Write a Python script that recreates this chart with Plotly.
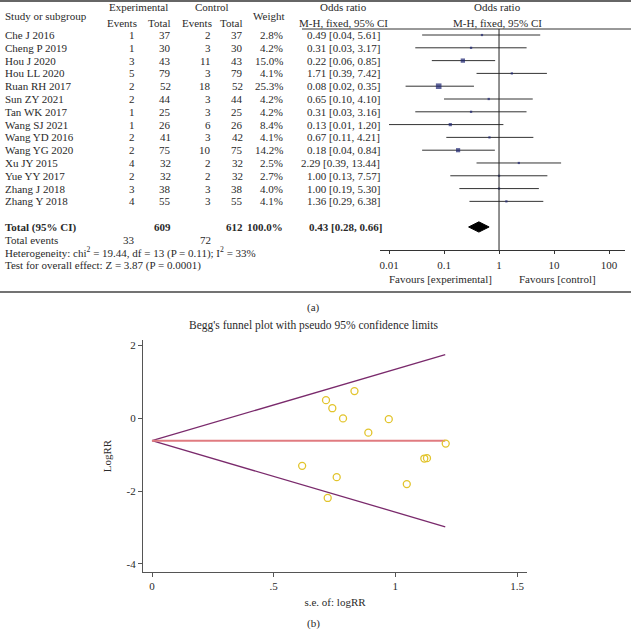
import plotly.graph_objects as go

W, H = 631, 629

# ---------------- data: forest plot ----------------
studies = ["Che J 2016", "Cheng P 2019", "Hou J 2020", "Hou LL 2020", "Ruan RH 2017",
           "Sun ZY 2021", "Tan WK 2017", "Wang SJ 2021", "Wang YD 2016", "Wang YG 2020",
           "Xu JY 2015", "Yue YY 2017", "Zhang J 2018", "Zhang Y 2018"]
exp_events = [1, 1, 3, 5, 2, 2, 1, 1, 2, 2, 4, 2, 3, 4]
exp_total = [37, 30, 43, 79, 52, 44, 25, 26, 41, 75, 32, 32, 38, 55]
ctrl_events = [2, 3, 11, 3, 18, 3, 3, 6, 3, 10, 2, 2, 3, 3]
ctrl_total = [37, 30, 43, 79, 52, 44, 25, 26, 42, 75, 32, 32, 38, 55]
weights = [2.8, 4.2, 15.0, 4.1, 25.3, 4.2, 4.2, 8.4, 4.1, 14.2, 2.5, 2.7, 4.0, 4.1]
odds = [0.49, 0.31, 0.22, 1.71, 0.08, 0.65, 0.31, 0.13, 0.67, 0.18, 2.29, 1.00, 1.00, 1.36]
ci_low = [0.04, 0.03, 0.06, 0.39, 0.02, 0.10, 0.03, 0.01, 0.11, 0.04, 0.39, 0.13, 0.19, 0.29]
ci_high = [5.61, 3.17, 0.85, 7.42, 0.35, 4.10, 3.16, 1.20, 4.21, 0.84, 13.44, 7.57, 5.30, 6.38]
total_exp, total_ctrl, total_weight = 609, 612, "100.0%"
total_or, total_lo, total_hi = 0.43, 0.28, 0.66
total_events_exp, total_events_ctrl = 33, 72
heterogeneity = "Heterogeneity: chi<sup>2</sup> = 19.44, df = 13 (P = 0.11); I<sup>2</sup> = 33%"
overall_test = "Test for overall effect: Z = 3.87 (P = 0.0001)"
forest_ticks = [0.01, 0.1, 1, 10, 100]
forest_ticktext = ["0.01", "0.1", "1", "10", "100"]

# ---------------- data: funnel plot ----------------
funnel_se = [0.715, 0.832, 0.741, 0.785, 0.973, 0.889, 1.207, 1.119, 1.130, 0.617, 0.759, 1.047, 0.722]
funnel_logrr = [0.49, 0.74, 0.27, -0.01, -0.03, -0.40, -0.70, -1.11, -1.10, -1.31, -1.62, -1.81, -2.19]
limit_se = [0.0, 1.205]
limit_center = [-0.62, -0.62]
limit_upper = [-0.62, 1.74]
limit_lower = [-0.62, -2.98]
funnel_xticks = [0, 0.5, 1, 1.5]
funnel_xticktext = ["0", ".5", "1", "1.5"]
funnel_yticks = [-4, -2, 0, 2]
funnel_yticktext = ["-4", "-2", "0", "2"]

FONT = "Liberation Serif"
TXT = "#2a2a2a"
FS = 11


def X(px):
    return px / W


def Y(py):
    return 1 - py / H


fig = go.Figure()

# ---------- forest plot traces ----------
ci_x, ci_y = [], []
for i, (lo, hi) in enumerate(zip(ci_low, ci_high)):
    ci_x += [lo, hi, None]
    ci_y += [i, i, None]
fig.add_trace(go.Scatter(x=ci_x, y=ci_y, mode="lines", line=dict(color="#333333", width=1),
                         xaxis="x", yaxis="y", hoverinfo="skip", showlegend=False))
fig.add_trace(go.Scatter(x=odds, y=list(range(len(odds))), mode="markers",
                         marker=dict(symbol="square", color="#1c2470",
                                     size=[max(2.2, 5.6 * (w / 25.3) ** 0.5) for w in weights],
                                     line=dict(width=0)),
                         xaxis="x", yaxis="y", showlegend=False))
total_row = len(studies) + 1
fig.add_trace(go.Scatter(x=[total_lo, total_or, total_hi, total_or, total_lo],
                         y=[total_row, total_row - 0.4, total_row, total_row + 0.4, total_row],
                         mode="lines", fill="toself", fillcolor="black", line=dict(color="black", width=1),
                         xaxis="x", yaxis="y", showlegend=False))
# line of no effect
fig.add_shape(type="line", xref="x", yref="y domain", x0=1, x1=1, y0=0, y1=1,
              line=dict(color="#222222", width=1))

# ---------- funnel plot traces ----------
fig.add_trace(go.Scatter(x=limit_se, y=limit_upper, mode="lines", line=dict(color="#7a2a6c", width=1.3),
                         xaxis="x2", yaxis="y2", showlegend=False))
fig.add_trace(go.Scatter(x=limit_se, y=limit_lower, mode="lines", line=dict(color="#7a2a6c", width=1.3),
                         xaxis="x2", yaxis="y2", showlegend=False))
fig.add_trace(go.Scatter(x=limit_se, y=limit_center, mode="lines", line=dict(color="#e07b80", width=2),
                         xaxis="x2", yaxis="y2", showlegend=False))
fig.add_trace(go.Scatter(x=funnel_se, y=funnel_logrr, mode="markers",
                         marker=dict(symbol="circle-open", size=7, color="#e2c42c", line=dict(width=1.3)),
                         xaxis="x2", yaxis="y2", showlegend=False))

# ---------- annotations (table text) ----------
ann = []
ROW0, ROWH = 35, 12.8


def txt(x, y, s, xanchor="left", bold=False, size=FS):
    if bold:
        s = "<b>" + s + "</b>"
    ann.append(dict(x=X(x), y=Y(y), xref="paper", yref="paper", text=s,
                    showarrow=False, xanchor=xanchor, yanchor="middle",
                    font=dict(family=FONT, size=size, color=TXT), borderpad=0))


def row(i):
    return ROW0 + ROWH * i


# header
txt(4, 16, "Study or subgroup")
txt(138, 7, "Experimental", "center")
txt(122, 23, "Events", "center")
txt(171, 23, "Total", "right")
txt(212, 7, "Control", "center")
txt(197, 23, "Events", "center")
txt(243, 23, "Total", "right")
txt(269, 16, "Weight", "center")
txt(343, 7, "Odds ratio", "center")
txt(343, 23, "M-H, fixed, 95% CI", "center")
txt(497, 7, "Odds ratio", "center")
txt(497, 23, "M-H, fixed, 95% CI", "center")

for i, s in enumerate(studies):
    y = row(i)
    txt(4, y, s, "left")
    txt(136, y, str(exp_events[i]), "right")
    txt(172, y, str(exp_total[i]), "right")
    txt(212, y, str(ctrl_events[i]), "right")
    txt(244, y, str(ctrl_total[i]), "right")
    txt(284, y, f"{weights[i]:.1f}%", "right")
    txt(381, y, f"{odds[i]:.2f} [{ci_low[i]:.2f}, {ci_high[i]:.2f}]", "right")

yt = row(total_row)
txt(4, yt, "Total (95% CI)", "left", bold=True)
txt(172, yt, str(total_exp), "right", bold=True)
txt(244, yt, str(total_ctrl), "right", bold=True)
txt(284, yt, total_weight, "right", bold=True)
txt(383, yt, f"{total_or:.2f} [{total_lo:.2f}, {total_hi:.2f}]", "right", bold=True)
txt(4, row(total_row + 1), "Total events", "left")
txt(136, row(total_row + 1), str(total_events_exp), "right")
txt(212, row(total_row + 1), str(total_events_ctrl), "right")
txt(4, row(total_row + 2), heterogeneity, "left")
txt(4, row(total_row + 3), overall_test, "left")

txt(440, 279, "Favours [experimental]", "center")
txt(557, 279, "Favours [control]", "center")

txt(313, 307, "(a)", "center")
txt(313, 325, "Begg's funnel plot with pseudo 95% confidence limits", "center", size=11.5)
txt(313, 623, "(b)", "center")

fig.update_layout(annotations=ann)

# horizontal rules
fig.add_shape(type="line", xref="paper", yref="paper", x0=0, x1=1, y0=Y(1), y1=Y(1),
              line=dict(color="#666666", width=2))
fig.add_shape(type="line", xref="paper", yref="paper", x0=X(302), x1=1, y0=Y(29), y1=Y(29),
              line=dict(color="#333333", width=1))
fig.add_shape(type="line", xref="paper", yref="paper", x0=0, x1=1, y0=Y(292), y1=Y(292),
              line=dict(color="#444444", width=1.5))

axfont = dict(family=FONT, size=FS, color=TXT)
fig.update_layout(
    width=W, height=H, margin=dict(l=0, r=0, t=0, b=0),
    paper_bgcolor="white", plot_bgcolor="white", showlegend=False,
    font=axfont,
    xaxis=dict(type="log", domain=[X(380), X(625)], range=[-2.164, 2.29], anchor="y",
               showline=True, linecolor="#333333", linewidth=1, ticks="outside", ticklen=3,
               tickcolor="#333333", tickvals=forest_ticks, ticktext=forest_ticktext,
               ticklabelstandoff=2,
               showgrid=False, zeroline=False, tickfont=axfont),
    yaxis=dict(domain=[Y(250), Y(29)], range=[16.8, -0.47], visible=False, showgrid=False),
    xaxis2=dict(domain=[X(143), X(527)], range=[-0.037, 1.541], anchor="y2",
                showline=True, linecolor="#555555", linewidth=1.2, ticks="outside", ticklen=4,
                tickcolor="#555555", tickvals=funnel_xticks, ticktext=funnel_xticktext,
                showgrid=False, zeroline=False, tickfont=axfont,
                title=dict(text="s.e. of: logRR", font=axfont, standoff=7)),
    yaxis2=dict(domain=[Y(572), Y(340)], range=[-4.22, 2.14], anchor="x2",
                showline=True, linecolor="#555555", linewidth=1.2, ticks="outside", ticklen=4,
                tickcolor="#555555", tickvals=funnel_yticks, ticktext=funnel_yticktext,
                showgrid=False, zeroline=False, tickfont=axfont,
                title=dict(text="LogRR", font=axfont, standoff=12)),
)

fig.write_html("out.html", config={"displayModeBar": False},
               post_script="document.body.style.margin='0px';")
